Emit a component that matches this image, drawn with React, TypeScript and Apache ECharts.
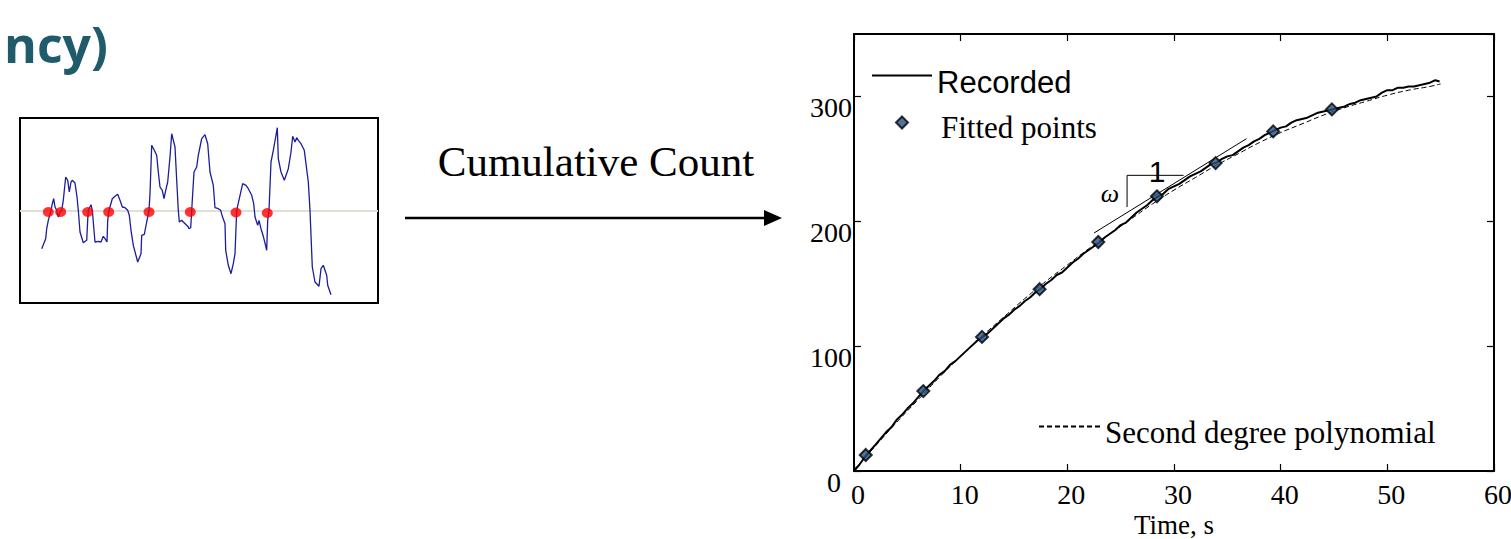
import React, { useEffect, useRef } from "react";
import * as echarts from "echarts";

// ---------- left mini chart: raw signal ----------
const signalTime = [21.7,25.7,26.7,28.3,31,32.3,33.7,35,36.7,38.3,40,41.7,43.3,45.7,47.7,49.3,51,52.3,55,57,58.3,60,63.3,66.7,67.7,68.3,71,72.3,75,78.3,81,83.3,85,87,87.7,89,92.3,95,97.7,100,102.3,105,107.7,109.3,111,113.3,117.7,121,121.7,124.3,126.7,129,130,131.7,134.3,136.7,138.3,140,142.3,144,145.7,147.7,150,151.7,155,156.7,158.3,159.3,161.7,163.3,166.7,168.3,169,170.7,171.7,174,176.7,178.3,180,181.7,185,187.7,190,193.3,195,198.3,200.7,202.3,205,205.7,208.3,211,213.3,215,216.7,219.3,222.7,226,228.3,231.7,233.7,235,237.7,239,241,243.3,245,246.7,247.7,249,251,253.3,255.7,257.3,258.3,261,264.3,268.3,271,272.7,275,276.7,278.3,281,284.3,288.3,290,292.3,295,299,301,303.3,306.7,307.7,311];
const signalLevel = [54.3,64.3,74.3,82.7,92.7,99.3,104.3,96,92.7,86,91,92.7,102.7,126,122.7,111,121,122.7,120,106,92.7,71,60.3,62.7,82.7,92.7,98.3,92.7,61,61.7,61,66.7,64.3,61,82.7,92.7,104.3,106.7,108.7,102.7,96,95.3,92.7,87.7,72.7,57.7,41,49.3,67.7,68.7,81,92.7,109.3,157.7,152.7,147.7,131,116,112.7,104.3,112.7,121,146,169.3,156,122.7,92.7,81,82.7,81,77.7,76,74.3,75.3,92.7,131,136,147.7,156,164.3,168.3,159.3,131,117.7,95.3,94.3,92.7,86.7,79.3,52.7,37.7,29.3,39.3,49.3,92.7,104.3,119.3,117.7,114.3,107.7,99.3,86,77.7,82.7,74.3,66.7,60,52.7,82.7,92.7,141,152.7,166,175.3,144.3,131,122.7,134.3,151,166.7,161,165.3,162.7,159.3,152.7,121,92.7,36,21,16.7,34.3,37.7,27.7,17.7,8.3];
const thresholdLevel = 92.7;
const crossingTime = [28.3, 40.7, 67.7, 88.7, 129, 170.3, 216, 247.3];
const crossingLevel = [91, 91, 91, 91, 91, 91, 90.5, 90];

// ---------- right chart: cumulative count ----------
const recordedTime = [0,0.5,1,1.5,2,2.5,3,3.5,4,4.5,5,5.5,6,6.5,7,7.5,8,8.5,9,9.5,10,10.5,11,11.5,12,12.5,13,13.5,14,14.5,15,15.5,16,16.5,17,17.5,18,18.5,19,19.5,20,20.5,21,21.5,22,22.5,23,23.5,24,24.5,25,25.5,26,26.5,27,27.5,28,28.5,29,29.5,30,30.5,31,31.5,32,32.5,33,33.5,34,34.5,35,35.5,36,36.5,37,37.5,38,38.5,39,39.5,40,40.5,41,41.5,42,42.5,43,43.5,44,44.5,45,45.5,46,46.5,47,47.5,48,48.5,49,49.5,50,50.5,51,51.5,52,52.5,53,53.5,54,54.5,54.9];
const recordedCount = [0,5,11,16,21,26,31,35,41,45,50,54,59,64,68,72,77,80,85,88,92,96,100,104,107,110,114,118,122,125,129,132,136,139,143,146,150,153,157,159,163,167,170,174,177,180,183,187,190,193,197,199,203,207,210,213,217,220,222,226,228,230,233,236,238,240,243,246,247,250,252,253,256,259,261,264,266,269,271,273,275,276,279,281,282,283,285,287,288,289,290,291,292,294,295,297,298,299,300,303,305,305,307,307,308,308,309,310,311,313,312];
const fittedTime = [1.1, 6.5, 12.0, 17.4, 22.9, 28.4, 33.9, 39.3, 44.8];
const fittedCount = [12.8, 64, 107.4, 145.6, 183.4, 220, 246.6, 272, 289.6];
const polyTime = [0,2,4,6,8,10,12,14,16,18,20,22,24,26,28,30,32,34,36,38,40,42,44,46,48,50,52,54,55];
const polyCount = [1,20,39,57,75,92,108,123,138,152,165,178,190,202,214,225,235,245,254,263,271,278,285,291,296,301,305,308,310];
const tangentTime = [22.5, 36.8];
const tangentCount = [190.6, 266.2];
const slopeTime = [25.6, 25.6, 30.9];
const slopeCount = [211.4, 236.8, 236.8];

const SERIF = '"Liberation Serif", "Times New Roman", serif';
const SANS = '"Liberation Sans", Arial, sans-serif';

const pairs = (xs: number[], ys: number[]) => xs.map((x, i) => [x, ys[i]]);

export default function App() {
  const ref = useRef<HTMLDivElement>(null);

  useEffect(() => {
    document.body.style.margin = "0";
    if (!ref.current) return;
    const chart = echarts.init(ref.current, null, { renderer: "svg" });

    const axisLineStyle = { color: "#000", width: 2 };
    const tickStyle = { color: "#000", width: 1.2 };
    const hiddenSymbol = { color: "rgba(0,0,0,0)", borderWidth: 0, opacity: 0 };

    chart.setOption({
      animation: false,
      backgroundColor: "#fff",
      grid: [
        { left: 854, top: 34, right: 17, bottom: 68, containLabel: false, outerBoundsMode: "none" },
        { left: 20, top: 118, width: 358, height: 185, show: true, borderColor: "#000", borderWidth: 2, backgroundColor: "transparent", outerBoundsMode: "none" },
      ],
      xAxis: [
        {
          type: "value", gridIndex: 0, min: 0, max: 60, interval: 10, position: "bottom",
          axisLine: { show: true, onZero: false, lineStyle: axisLineStyle },
          axisTick: { show: true, inside: true, length: 7, lineStyle: tickStyle },
          axisLabel: { fontFamily: SERIF, fontSize: 28, lineHeight: 24, color: "#000", margin: 11, padding: [0, 0, 0, 8] },
          splitLine: { show: false },
          name: "Time, s", nameLocation: "middle", nameGap: 41, nameMoveOverlap: false,
          nameTextStyle: { fontFamily: SERIF, fontSize: 27, lineHeight: 26, color: "#000" },
        },
        {
          type: "value", gridIndex: 0, min: 0, max: 60, interval: 10, position: "top",
          axisLine: { show: true, onZero: false, lineStyle: axisLineStyle },
          axisTick: { show: true, inside: true, length: 7, lineStyle: tickStyle },
          axisLabel: { show: false }, splitLine: { show: false },
        },
        { type: "value", gridIndex: 1, min: 0, max: 358, show: false },
      ],
      yAxis: [
        {
          type: "value", gridIndex: 0, min: 0, max: 350, interval: 100, position: "left",
          axisLine: { show: true, onZero: false, lineStyle: axisLineStyle },
          axisTick: { show: true, inside: true, length: 7, lineStyle: tickStyle },
          axisLabel: {
            margin: 2, showMaxLabel: false,
            formatter: (v: number) => (v > 300 ? "" : v === 0 ? "{z|0}" : "{n|" + v + "}"),
            rich: {
              n: { fontFamily: SERIF, fontSize: 28, color: "#000", lineHeight: 28, padding: [22, 0, 0, 0] },
              z: { fontFamily: SERIF, fontSize: 28, color: "#000", lineHeight: 28, padding: [22, 11, 0, 0] },
            },
          },
          splitLine: { show: false },
        },
        {
          type: "value", gridIndex: 0, min: 0, max: 350, interval: 100, position: "right",
          axisLine: { show: true, onZero: false, lineStyle: axisLineStyle },
          axisTick: { show: true, inside: true, length: 7, lineStyle: tickStyle },
          axisLabel: { show: false }, splitLine: { show: false },
        },
        { type: "value", gridIndex: 1, min: 0, max: 185, show: false },
      ],
      legend: [
        {
          data: ["Recorded"], left: 871, top: 53, padding: 0, itemWidth: 60, itemHeight: 14,
          itemStyle: hiddenSymbol, selectedMode: false,
          formatter: (name: string) => "{t|" + name + "}",
          textStyle: { rich: { t: { fontFamily: SANS, fontSize: 31, color: "#000", lineHeight: 34, padding: [14, 0, 0, 0] } } },
        },
        {
          data: [{ name: "Fitted points", icon: "diamond" }], left: 895, top: 102, padding: 0, itemWidth: 12, itemHeight: 12,
          selectedMode: false,
          formatter: (name: string) => "{t|" + name + "}",
          textStyle: { rich: { t: { fontFamily: SERIF, fontSize: 31, color: "#000", lineHeight: 34, padding: [10, 0, 0, 28] } } },
        },
        {
          data: ["Second degree polynomial"], left: 1038, top: 405, padding: 0, itemWidth: 61, itemHeight: 14,
          itemStyle: hiddenSymbol, selectedMode: false,
          formatter: (name: string) => "{t|" + name + "}",
          textStyle: { rich: { t: { fontFamily: SERIF, fontSize: 31, color: "#000", lineHeight: 34, padding: [12, 0, 0, 0] } } },
        },
      ],
      series: [
        {
          name: "Second degree polynomial", type: "line", xAxisIndex: 0, yAxisIndex: 0,
          data: pairs(polyTime, polyCount), symbol: "none", smooth: true,
          lineStyle: { color: "#000", width: 1, type: [5, 3] }, itemStyle: { color: "#000" }, z: 2, silent: true,
        },
        {
          name: "Recorded", type: "line", xAxisIndex: 0, yAxisIndex: 0,
          data: pairs(recordedTime, recordedCount), symbol: "none",
          lineStyle: { color: "#000", width: 2 }, itemStyle: { color: "#000" }, z: 3, silent: true,
        },
        {
          name: "tangent", type: "line", xAxisIndex: 0, yAxisIndex: 0,
          data: pairs(tangentTime, tangentCount), symbol: "none",
          lineStyle: { color: "#000", width: 1 }, z: 3, silent: true,
        },
        {
          name: "slope", type: "line", xAxisIndex: 0, yAxisIndex: 0,
          data: pairs(slopeTime, slopeCount), symbol: "none",
          lineStyle: { color: "#000", width: 1 }, z: 3, silent: true,
        },
        {
          name: "Fitted points", type: "scatter", xAxisIndex: 0, yAxisIndex: 0,
          data: pairs(fittedTime, fittedCount), symbol: "diamond", symbolSize: 12,
          itemStyle: { color: "#24507f", borderColor: "#000", borderWidth: 2 }, z: 5,
        },
        {
          name: "signal", type: "line", xAxisIndex: 2, yAxisIndex: 2,
          data: pairs(signalTime, signalLevel), symbol: "none",
          lineStyle: { color: "#1c1c9c", width: 1.3 }, z: 3, silent: true,
          markLine: {
            silent: true, symbol: ["none", "none"], label: { show: false }, z: 1,
            lineStyle: { color: "#e3ded3", width: 2, type: "solid" },
            data: [{ yAxis: thresholdLevel }],
          },
        },
        {
          name: "crossings", type: "scatter", xAxisIndex: 2, yAxisIndex: 2,
          data: pairs(crossingTime, crossingLevel), symbol: "circle", symbolSize: [11, 10],
          itemStyle: { color: "#ff0000" }, z: 6,
        },
      ],
      graphic: [
        {
          type: "text", x: 108, y: 44,
          style: { text: "ncy)", align: "right", verticalAlign: "middle", fontFamily: '"Open Sans", sans-serif', fontWeight: "bold", fontSize: 50, fill: "#1f5b6b" },
        },
        {
          type: "text", x: 596, y: 161,
          style: { text: "Cumulative Count", align: "center", verticalAlign: "middle", fontFamily: SERIF, fontSize: 43, fill: "#000" },
        },
        { type: "line", shape: { x1: 405, y1: 218, x2: 768, y2: 218 }, style: { stroke: "#000", lineWidth: 2.3 } },
        { type: "polygon", shape: { points: [[764, 210], [782, 218], [764, 226]] }, style: { fill: "#000" } },
        {
          type: "text", x: 1110, y: 193, z: 10,
          style: { text: "ω", align: "center", verticalAlign: "middle", fontFamily: SERIF, fontStyle: "italic", fontSize: 26, fill: "#000" },
        },
        {
          type: "text", x: 1157, y: 171, z: 10,
          style: { text: "1", align: "center", verticalAlign: "middle", fontFamily: SANS, fontSize: 30, fill: "#000" },
        },
      ],
    });

    return () => chart.dispose();
  }, []);

  return <div ref={ref} style={{ width: 1511, height: 539 }} />;
}
